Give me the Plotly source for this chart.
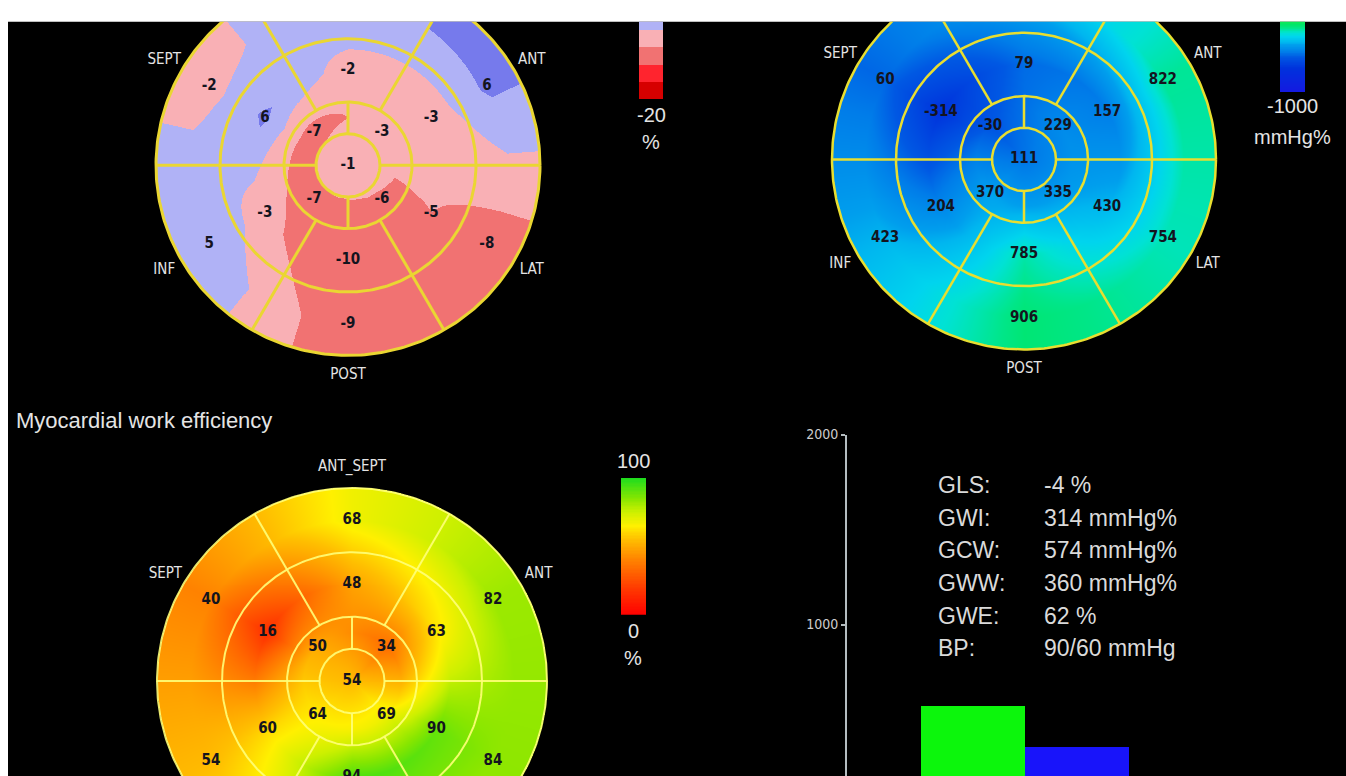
import numpy as np
import plotly.graph_objects as go

W, H = 1346, 776

# ---------------------------------------------------------------- segment data
# Basal and mid rings hold six walls, centred on these angles (deg, CCW from +x)
WALLS = ["ANT_SEPT", "SEPT", "INF", "POST", "LAT", "ANT"]
WALL_ANGLES = [90, 150, 210, 270, 330, 30]
# Apical ring holds four quadrants centred on the diagonals
APICAL_ANGLES = [135, 225, 315, 45]

# Peak systolic longitudinal strain (%)
strain_basal = [4, -2, 5, -9, -8, 6]
strain_mid = [-2, 6, -3, -10, -5, -3]
strain_apical = [-7, -7, -6, -3]
strain_apex = -1

# Myocardial work index (mmHg%)
gwi_basal = [400, 60, 423, 906, 754, 822]
gwi_mid = [79, -314, 204, 785, 430, 157]
gwi_apical = [-30, 370, 335, 229]
gwi_apex = 111

# Myocardial work efficiency (%)
gwe_basal = [68, 40, 54, 80, 84, 82]
gwe_mid = [48, 16, 60, 94, 90, 63]
gwe_apical = [50, 64, 69, 34]
gwe_apex = 54

# Global indices
gls = -4
gwi = 314
gcw = 574
gww = 360
gwe = 62
bp_sys, bp_dia = 90, 60

work_bar_names = ["GCW", "GWW"]
work_bar_values = [gcw, gww]

# ---------------------------------------------------------------- colour maps
strain_band_colors = [
    "rgb(214,0,0)", "rgb(255,36,46)", "rgb(241,114,114)", "rgb(249,176,181)",
    "rgb(176,178,246)", "rgb(118,122,236)", "rgb(80,80,230)", "rgb(40,40,220)",
]
strain_scale = []
for i, c in enumerate(strain_band_colors):
    strain_scale += [[i / 8, c], [(i + 1) / 8, c]]

gwi_scale = [
    [0.0, "rgb(20,25,225)"], [0.1715, "rgb(0,50,220)"], [0.25, "rgb(0,88,227)"],
    [0.2875, "rgb(0,125,233)"], [0.3375, "rgb(0,158,237)"], [0.356, "rgb(0,182,239)"],
    [0.40, "rgb(0,212,238)"], [0.425, "rgb(0,226,212)"], [0.445, "rgb(0,229,172)"],
    [0.4625, "rgb(0,230,136)"], [0.4875, "rgb(0,230,100)"], [0.625, "rgb(120,240,0)"],
    [0.75, "rgb(255,255,0)"], [0.875, "rgb(255,140,0)"], [1.0, "rgb(255,0,0)"],
]

gwe_scale = [
    [0.0, "rgb(255,0,0)"], [0.2, "rgb(255,60,0)"], [0.4, "rgb(255,130,0)"],
    [0.55, "rgb(255,190,0)"], [0.65, "rgb(255,240,0)"], [0.75, "rgb(205,240,0)"],
    [0.85, "rgb(135,230,0)"], [1.0, "rgb(30,220,30)"],
]

TEXT_GREY = "rgb(228,228,228)"
NARROW = "DejaVu Sans Condensed, DejaVu Sans"

fig = go.Figure()
layout_axes = {}


def axis_key(letter, n):
    return f"{letter}axis" if n == 1 else f"{letter}axis{n}"


def axis_ref(letter, n):
    return letter if n == 1 else f"{letter}{n}"


def add_axes(n, xpx, ypx, xrange, yrange, yaxis_extra=None):
    layout_axes[axis_key("x", n)] = dict(
        domain=[xpx[0] / W, xpx[1] / W], range=xrange, visible=False,
        fixedrange=True, anchor=axis_ref("y", n))
    ya = dict(
        domain=[1 - ypx[1] / H, 1 - ypx[0] / H], range=yrange, visible=False,
        fixedrange=True, anchor=axis_ref("x", n))
    if yaxis_extra:
        ya.update(yaxis_extra)
    layout_axes[axis_key("y", n)] = ya


def bullseye(n, cx, cy, R, apex, apical, mid, basal, cscale, zmin, zmax,
             line_color, line_width):
    half = 245
    ytop = max(14, cy - half)
    ybot = min(H, cy + half)
    ylo, yhi = -(ybot - cy), cy - ytop
    add_axes(n, (cx - half, cx + half), (ytop, ybot), [-half, half], [ylo, yhi])
    xr, yr = axis_ref("x", n), axis_ref("y", n)

    # smooth parametric field built ring by ring from the segment values
    g = np.arange(-R, R + 1.0, 1.0)
    X, Y = np.meshgrid(g, g)
    r = np.hypot(X, Y) / R
    th = np.degrees(np.arctan2(Y, X)) % 360
    p_ap = np.interp(th, APICAL_ANGLES, apical, period=360)
    p_mid = np.interp(th, WALL_ANGLES, mid, period=360)
    p_bas = np.interp(th, WALL_ANGLES, basal, period=360)
    t1 = np.clip(r / 0.25, 0, 1)
    t2 = np.clip((r - 0.25) / 0.25, 0, 1)
    t3 = np.clip((r - 0.5) / 0.33, 0, 1)
    z = np.where(r < 0.25, apex * (1 - t1) + p_ap * t1,
                 np.where(r < 0.5, p_ap * (1 - t2) + p_mid * t2,
                          p_mid * (1 - t3) + p_bas * t3))
    z = np.where(r <= 1.0, z, np.nan).astype(np.float32)
    fig.add_trace(go.Heatmap(
        x=g, y=g, z=z, colorscale=cscale, zmin=zmin, zmax=zmax,
        showscale=False, hoverinfo="skip", xaxis=xr, yaxis=yr))

    # segment borders
    ring_r = np.array([1 / 6, 1 / 3, 2 / 3, 1.0]) * R
    t = np.linspace(0, 2 * np.pi, 361)
    lx, ly = [], []
    for rr in ring_r:
        lx += list(rr * np.cos(t)) + [None]
        ly += list(rr * np.sin(t)) + [None]
    spokes = [(a, ring_r[0], ring_r[3]) for a in (0, 180)]
    spokes += [(a, ring_r[0], ring_r[1]) for a in (90, 270)]
    spokes += [(a, ring_r[1], ring_r[3]) for a in (60, 120, 240, 300)]
    for a, r0, r1 in spokes:
        ca, sa = np.cos(np.radians(a)), np.sin(np.radians(a))
        lx += [r0 * ca, r1 * ca, None]
        ly += [r0 * sa, r1 * sa, None]
    fig.add_trace(go.Scatter(
        x=lx, y=ly, mode="lines", line=dict(color=line_color, width=line_width),
        hoverinfo="skip", showlegend=False, xaxis=xr, yaxis=yr))

    def in_view(y):
        return ylo - 3 <= y <= yhi + 3

    # segment values (only those that fall inside the visible window)
    vx, vy, vt = [0.0], [0.0], [str(apex)]
    for angles, vals, frac in ((APICAL_ANGLES, apical, 0.25),
                               (WALL_ANGLES, mid, 0.5),
                               (WALL_ANGLES, basal, 0.835)):
        for a, v in zip(angles, vals):
            px_, py_ = frac * R * np.cos(np.radians(a)), frac * R * np.sin(np.radians(a))
            if in_view(py_):
                vx.append(px_)
                vy.append(py_)
                vt.append(str(v))
    fig.add_trace(go.Scatter(
        x=vx, y=vy, text=vt, mode="text", cliponaxis=True,
        textfont=dict(family=NARROW, size=15, color="rgb(20,20,30)", weight="bold"),
        hoverinfo="skip", showlegend=False, xaxis=xr, yaxis=yr))

    # wall names around the rim
    nx, ny, nt = [], [], []
    for a, name in zip(WALL_ANGLES, WALLS):
        px_, py_ = 1.105 * R * np.cos(np.radians(a)), 1.105 * R * np.sin(np.radians(a))
        if in_view(py_):
            nx.append(px_)
            ny.append(py_)
            nt.append(name)
    fig.add_trace(go.Scatter(
        x=nx, y=ny, text=nt, mode="text", cliponaxis=True,
        textfont=dict(family=NARROW, size=15, color=TEXT_GREY),
        hoverinfo="skip", showlegend=False, xaxis=xr, yaxis=yr))


def color_strip(n, xpx, ypx, lo, hi, visible_hi, cscale, centers):
    add_axes(n, xpx, ypx, [-0.5, 0.5], [lo, visible_hi])
    fig.add_trace(go.Heatmap(
        x=[0], y=centers, z=[[v] for v in centers], colorscale=cscale,
        zmin=lo, zmax=hi, showscale=False, hoverinfo="skip",
        xaxis=axis_ref("x", n), yaxis=axis_ref("y", n)))


# ---------------------------------------------------------------- panels
bullseye(1, 348, 159, 192, strain_apex, strain_apical, strain_mid, strain_basal,
         strain_scale, -20, 20, "rgb(234,214,50)", 3)
bullseye(2, 1024, 153, 192, gwi_apex, gwi_apical, gwi_mid, gwi_basal,
         gwi_scale, -1000, 3000, "rgb(232,222,48)", 2.5)
bullseye(3, 352, 680, 195, gwe_apex, gwe_apical, gwe_mid, gwe_basal,
         gwe_scale, 0, 100, "rgba(255,255,120,0.9)", 2)

# colour strips (scale length 140 px; the top part runs off the screen)
color_strip(4, (639, 663), (14, 92), -20, 20, -20 + 78 / 140 * 40, strain_scale,
            list(np.arange(-17.5, 20, 5.0)))
color_strip(5, (1280, 1305), (14, 85), -1000, 3000, -1000 + 71 / 140 * 4000,
            gwi_scale, list(np.linspace(-1000, 3000, 201)))
color_strip(6, (621, 646), (475, 613), 0, 100, 100, gwe_scale,
            list(np.linspace(0, 100, 101)))

# work bars: zero sits 39 px below the bottom edge, 192 px per 1000 mmHg%
add_axes(7, (847, 1300), (431, H), [-1.2115, 3.144], [(815 - H) / 192 * 1000, 2000],
         yaxis_extra=dict(
             visible=True, showline=True, linecolor="rgb(180,188,192)", linewidth=2,
             ticks="outside", ticklen=4, tickwidth=1.5, tickcolor="rgb(180,188,192)",
             tickvals=[1000, 2000], ticktext=["1000", "2000"], showgrid=False,
             zeroline=False,
             tickfont=dict(family=NARROW, size=14, color="rgb(205,205,205)")))
fig.add_trace(go.Bar(
    x=[0, 1], y=work_bar_values, width=1, name="work",
    marker=dict(color=["rgb(12,246,12)", "rgb(24,20,250)"], line=dict(width=0)),
    hovertext=work_bar_names, showlegend=False, xaxis="x7", yaxis="y7"))

# ---------------------------------------------------------------- text
annotations = []


def label(text, xpx, ypx, size, anchor="center", family="Liberation Sans, Arial",
          color=TEXT_GREY):
    annotations.append(dict(
        text=text, x=xpx / W, y=1 - ypx / H, xref="paper", yref="paper",
        xanchor=anchor, yanchor="middle", showarrow=False,
        font=dict(family=family, size=size, color=color)))


label("-20", 651, 108, 20)
label("%", 651, 135, 20)
label("-1000", 1292, 99, 20)
label("mmHg%", 1292, 130, 20)
label("100", 633, 458, 20)
label("0", 633, 629, 20)
label("%", 633, 657, 20)
label("Myocardial work efficiency", 14, 417, 22, anchor="left")

info_names = ["GLS:", "GWI:", "GCW:", "GWW:", "GWE:", "BP:"]
info_values = [f"{gls} %", f"{gwi} mmHg%", f"{gcw} mmHg%", f"{gww} mmHg%",
               f"{gwe} %", f"{bp_sys}/{bp_dia} mmHg"]
for i, (nm, val) in enumerate(zip(info_names, info_values)):
    yy = 482 + 33 * i
    label(nm, 936, yy, 23, anchor="left", color="rgb(218,218,218)")
    label(val, 1042, yy, 23, anchor="left", color="rgb(218,218,218)")

fig.update_layout(
    width=W, height=H, margin=dict(l=0, r=0, t=0, b=0),
    paper_bgcolor="white", plot_bgcolor="rgba(0,0,0,0)",
    showlegend=False, bargap=0, annotations=annotations,
    shapes=[dict(type="rect", xref="paper", yref="paper", x0=8 / W, x1=1,
                 y0=0, y1=1 - 14 / H, fillcolor="black", line=dict(width=0),
                 layer="below")],
    **layout_axes,
)

fig.write_html("out.html")
